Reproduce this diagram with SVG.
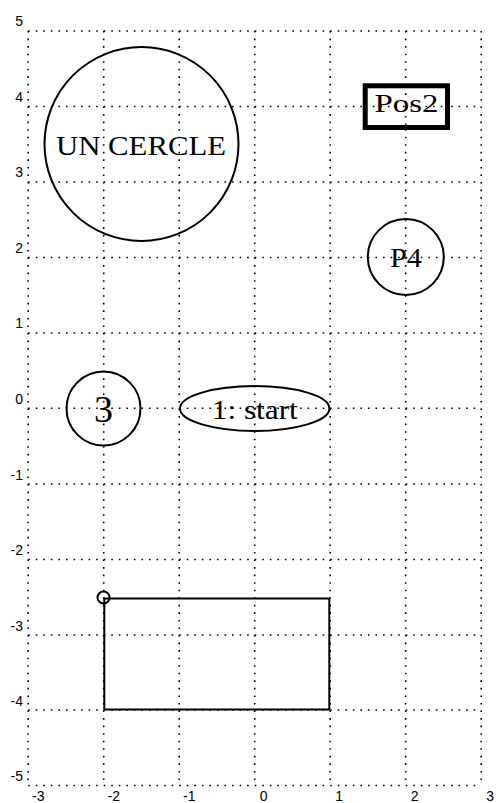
<svg xmlns="http://www.w3.org/2000/svg" width="496" height="803" viewBox="0 0 496 803">
<style>
.grid{stroke:#000;stroke-width:1.6;stroke-dasharray:1.6 5.95;fill:none}
.ax{font-family:"Liberation Sans",Arial,sans-serif;font-size:14px;fill:#000}
.shape{fill:none;stroke:#000;stroke-width:2}
.lbl{font-family:"Liberation Serif","DejaVu Serif",serif;fill:#000;text-anchor:middle}
</style>
<rect width="496" height="803" fill="#fff"/>
<g id="grid">
<path class="grid" d="M28.2,31H481.2M28.2,106.5H481.2M28.2,182H481.2M28.2,257.5H481.2M28.2,333H481.2M28.2,408.3H481.2M28.2,484H481.2M28.2,559.5H481.2M28.2,635H481.2M28.2,710H481.2M28.2,785.5H481.2"/>
<path class="grid" d="M28.2,31V785.5M103.7,31V785.5M179.2,31V785.5M254.7,31V785.5M330.2,31V785.5M405.7,31V785.5M481.2,31V785.5"/>
</g>
<g id="axis-labels">
<g class="ax" text-anchor="end">
<text x="23" y="26">5</text>
<text x="23" y="102">4</text>
<text x="23" y="177">3</text>
<text x="23" y="253">2</text>
<text x="23" y="328">1</text>
<text x="23" y="404">0</text>
<text x="23" y="480">-1</text>
<text x="23" y="555">-2</text>
<text x="23" y="631">-3</text>
<text x="23" y="706">-4</text>
<text x="23" y="781">-5</text>
</g>
<g class="ax" text-anchor="start">
<text x="32" y="801">-3</text>
<text x="107.5" y="801">-2</text>
<text x="183" y="801">-1</text>
<text x="259.7" y="801">0</text>
<text x="335.2" y="801">1</text>
<text x="410.7" y="801">2</text>
<text x="486.2" y="801">3</text>
</g>
</g>
<g id="node-uncercle">
<circle class="shape" cx="141.5" cy="144" r="97"/>
<text class="lbl" x="141" y="155" font-size="28" textLength="170" lengthAdjust="spacingAndGlyphs">UN CERCLE</text>
</g>
<g id="node-pos2">
<rect x="365.2" y="85.8" width="82.3" height="41.7" fill="#fff" stroke="#000" stroke-width="5"/>
<path class="grid" d="M365.2,106.5H447.5M405.7,85.8V127.5" stroke-dashoffset="0"/>
<text class="lbl" x="406.5" y="112" font-size="26" textLength="64" lengthAdjust="spacingAndGlyphs">Pos2</text>
</g>
<g id="node-p4">
<circle class="shape" cx="405.8" cy="257" r="38"/>
<text class="lbl" x="406" y="267" font-size="28" textLength="32" lengthAdjust="spacingAndGlyphs">P4</text>
</g>
<g id="node-3">
<circle class="shape" cx="103.5" cy="408.5" r="37"/>
<text class="lbl" x="103.5" y="422" font-size="38">3</text>
</g>
<g id="node-start">
<ellipse class="shape" cx="254.7" cy="408.5" rx="74.7" ry="22.5"/>
<text class="lbl" x="254.8" y="418.5" font-size="27" textLength="86" lengthAdjust="spacingAndGlyphs">1: start</text>
</g>
<g id="node-rect">
<rect class="shape" x="104.3" y="598.5" width="225" height="111" stroke-width="1.8"/>
<circle class="shape" cx="103.5" cy="597.5" r="6"/>
</g>
<g id="connectors"/>
</svg>
